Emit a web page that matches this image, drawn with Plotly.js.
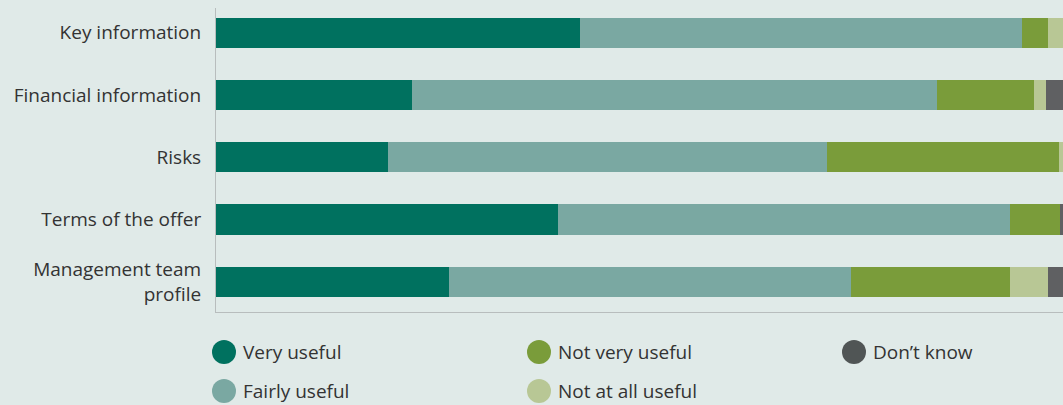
<!DOCTYPE html>
<html>
<head>
<meta charset="utf-8">
<script src="https://cdn.plot.ly/plotly-3.0.1.min.js"></script>
<style>
  html, body { margin: 0; padding: 0; background: #e0eae8; }
  #chart { width: 1063px; height: 405px; }
</style>
</head>
<body>
<div id="chart"></div>
<script>
const categories = ["Key information", "Financial information", "Risks", "Terms of the offer", "Management team<br>profile"];
const veryUseful     = [43.0, 23.1, 20.3, 40.4, 27.5];
const fairlyUseful   = [52.1, 62.0, 51.8, 53.4, 47.5];
const notVeryUseful  = [3.1, 11.5, 27.4, 5.8, 18.8];
const notAtAllUseful = [1.9, 1.4, 0.5, 0.0, 4.4];
const dontKnow       = [0.0, 2.0, 0.0, 0.5, 1.9];
const seriesNames = ["Very useful", "Fairly useful", "Not very useful", "Not at all useful", "Don\u2019t know"];
const seriesColors = ["#00715f", "#7aa8a2", "#7a9c3a", "#b8c795", "#5f6062"];
const legendColors = ["#00715f", "#7aa8a2", "#7a9c3a", "#b8c795", "#505555"];
const seriesValues = [veryUseful, fairlyUseful, notVeryUseful, notAtAllUseful, dontKnow];

const traces = seriesValues.map((vals, i) => ({
  type: "bar",
  orientation: "h",
  name: seriesNames[i],
  y: categories,
  x: vals,
  marker: { color: seriesColors[i], line: { width: 0 } },
  showlegend: false,
  hoverinfo: "name+x"
}));

const W = 1063, H = 405, mL = 216, mR = 0, mT = 8, mB = 93;
const pw = W - mL - mR, ph = H - mT - mB;
const px = x => (x - mL) / pw;
const py = y => (H - mB - y) / ph;

const FONT = "Open Sans, sans-serif";
const TXT = "#333333";

// manual legend with circles
const legendPos = [[224, 352], [224, 391], [539, 352], [539, 391], [854, 352]];
const shapes = [];
const annotations = [];
legendPos.forEach((p, i) => {
  const r = 12;
  shapes.push({
    type: "circle", xref: "paper", yref: "paper",
    x0: px(p[0] - r), x1: px(p[0] + r), y0: py(p[1] + r), y1: py(p[1] - r),
    fillcolor: legendColors[i], line: { width: 0 }
  });
  annotations.push({
    xref: "paper", yref: "paper", x: px(p[0] + 17), y: py(p[1]),
    xanchor: "left", yanchor: "middle", showarrow: false,
    text: seriesNames[i],
    font: { family: FONT, size: 19, color: TXT }
  });
});

const layout = {
  width: W, height: H,
  margin: { l: mL, r: mR, t: mT, b: mB, pad: 0 },
  paper_bgcolor: "#e0eae8",
  plot_bgcolor: "#e0eae8",
  barmode: "stack",
  bargap: 0.518,
  showlegend: false,
  font: { family: FONT, size: 19, color: TXT },
  xaxis: {
    range: [0, 100], showticklabels: false, showgrid: false, zeroline: false,
    showline: true, linecolor: "#b8bdbd", linewidth: 1, fixedrange: true
  },
  yaxis: {
    range: [4.485, -0.395], showgrid: false, zeroline: false,
    showline: true, linecolor: "#b8bdbd", linewidth: 1,
    ticks: "", ticklabelstandoff: 10,
    tickfont: { family: FONT, size: 19, color: TXT }
  },
  shapes: shapes,
  annotations: annotations
};

Plotly.newPlot("chart", traces, layout, { displayModeBar: false, staticPlot: true });
</script>
</body>
</html>
